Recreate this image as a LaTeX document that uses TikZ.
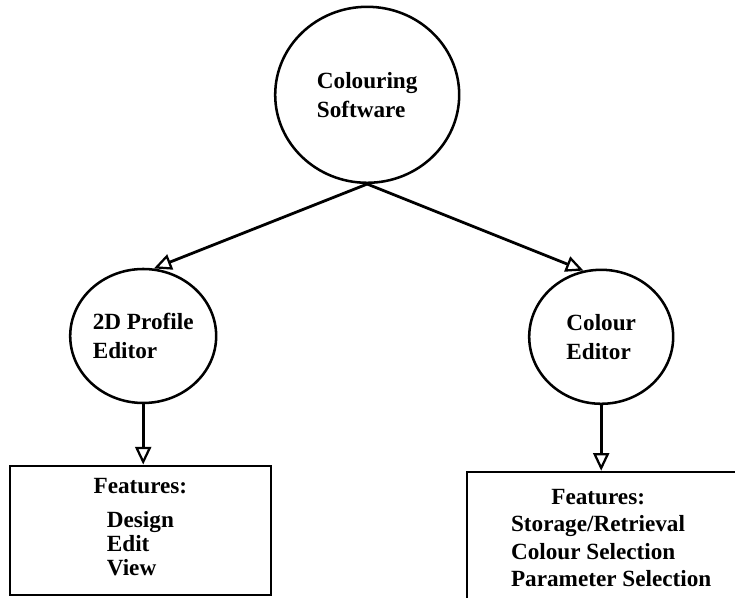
\documentclass[tikz,border=0pt]{standalone}
\usepackage{fontspec}
\setmainfont{Liberation Serif}
\usepackage{tikz}
\usetikzlibrary{arrows.meta,positioning,shapes.geometric}
\tikzset{
  module/.style={draw, ellipse, line width=1.8pt, align=left, inner sep=0pt, font=\bfseries\fontsize{16.5}{20.6}\selectfont},
  featbox/.style={draw, rectangle, line width=1.8pt, align=center, inner sep=0pt, font=\bfseries\fontsize{16.5}{17}\selectfont},
  arrow/.style={-{Triangle[open,length=4.4mm,width=4mm,line width=1.6pt]}, line width=2pt}
}
\begin{document}
\begin{tikzpicture}[x=1cm,y=1cm]
  \useasboundingbox (0,0) rectangle (18.375,14.95);
  \node[module,minimum width=4.6cm,minimum height=4.4cm] (soft) at (9.18,12.58) {Colouring\\Software};
  \node[module,minimum width=3.65cm,minimum height=3.35cm] (prof) at (3.58,6.55) {2D Profile\\Editor};
  \node[module,minimum width=3.6cm,minimum height=3.35cm] (col) at (15.03,6.53) {Colour\\Editor};

  \node[featbox,minimum width=6.53cm,minimum height=3.23cm] (profbox) at (3.51,1.69)
    {Features:\\[7pt]\begin{tabular}[t]{@{}l@{}}Design\\Edit\\View\end{tabular}};
  \node[featbox,minimum width=7.2cm,minimum height=3.5cm,font=\bfseries\fontsize{16.5}{19.5}\selectfont] (colbox) at (15.28,1.4)
    {Features:\hspace*{0.65cm}\\\begin{tabular}[t]{@{}l@{}}Storage/Retrieval\\Colour Selection\\Parameter Selection\end{tabular}};

  \draw[arrow] (soft.south) -- (prof.81);
  \draw[arrow] (soft.south) -- (col.105);
  \draw[arrow] (prof.south) -- (prof.south |- profbox.north);
  \draw[arrow] (col.south) -- (col.south |- colbox.north);
\end{tikzpicture}
\end{document}
